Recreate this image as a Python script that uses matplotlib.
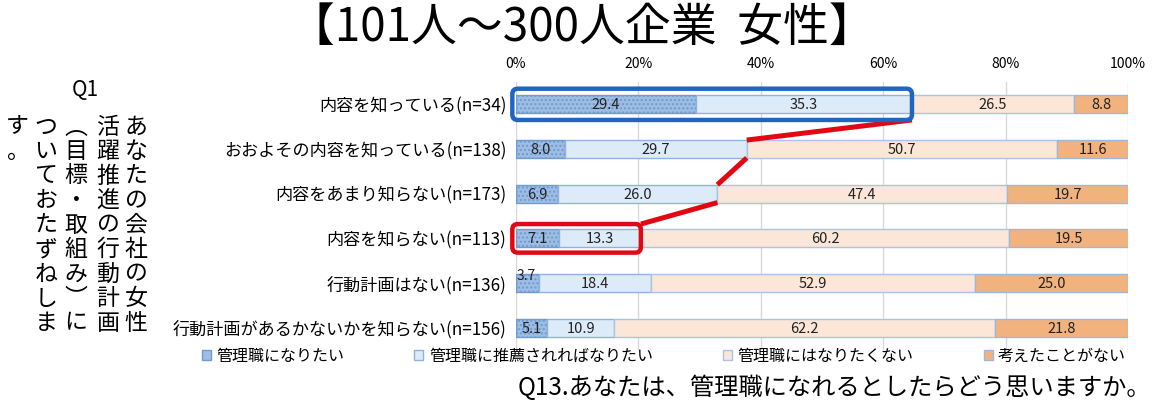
import matplotlib
matplotlib.use('Agg')
import matplotlib.pyplot as plt
from matplotlib.patches import FancyBboxPatch, Patch
import numpy as np

plt.rcParams['font.family'] = ['Noto Sans CJK JP', 'DejaVu Sans']

# データ（%）
categories = ['内容を知っている(n=34)', 'おおよその内容を知っている(n=138)',
              '内容をあまり知らない(n=173)', '内容を知らない(n=113)',
              '行動計画はない(n=136)', '行動計画があるかないかを知らない(n=156)']
want_manager = [29.4, 8.0, 6.9, 7.1, 3.7, 5.1]
if_recommended = [35.3, 29.7, 26.0, 13.3, 18.4, 10.9]
not_want = [26.5, 50.7, 47.4, 60.2, 52.9, 62.2]
never_thought = [8.8, 11.6, 19.7, 19.5, 25.0, 21.8]
series_names = ['管理職になりたい', '管理職に推薦されればなりたい',
                '管理職にはなりたくない', '考えたことがない']
tick_values = [0, 20, 40, 60, 80, 100]

colors = ['#9DBDE3', '#DDEBF8', '#FBE6D8', '#F2B27E']
edges = ['#6F9BD1', '#8FB3DE', '#A9C4E6', '#9DB8DD']

fig = plt.figure(figsize=(11.53, 4.11), dpi=100)
ax = fig.add_axes([516 / 1153, 1 - 350 / 411, 612 / 1153, 268 / 411])

y = np.arange(len(categories))
series = [want_manager, if_recommended, not_want, never_thought]
left = np.zeros(len(categories))
for i, vals in enumerate(series):
    vals = np.array(vals)
    ax.bar(left + vals / 2, 0.4, width=vals, bottom=y - 0.2, color=colors[i],
           edgecolor=edges[i], linewidth=1.0, hatch='....' if i == 0 else None,
           zorder=2)
    for j, v in enumerate(vals):
        if v < 4:
            ax.text(left[j] + 0.1, y[j] - 0.16, f'{v:.1f}', ha='left', va='center',
                    fontsize=10, color='#222222', zorder=4)
        else:
            ax.text(left[j] + v / 2, y[j] + 0.02, f'{v:.1f}', ha='center', va='center',
                    fontsize=10.5, color='#222222', zorder=4)
    left = left + vals

cum2 = np.array(want_manager) + np.array(if_recommended)

ax.set_xlim(0, 100)
ax.set_ylim(5.5, -0.5)
ax.set_yticks(y)
ax.set_yticklabels(categories, fontsize=12.3)
ax.set_xticks(tick_values)
ax.set_xticklabels([f'{t}%' for t in tick_values], fontsize=10)
ax.xaxis.tick_top()
ax.tick_params(axis='both', length=0, pad=7)
ax.tick_params(axis='x', pad=8)
ax.grid(axis='x', color='#D9D9D9', linewidth=1, zorder=0)
ax.set_axisbelow(True)
for s in ax.spines.values():
    s.set_visible(False)

# 強調枠
aspect = (6 / 268) / (100 / 612)
box_blue = FancyBboxPatch((-0.6, -0.35), cum2[0] + 0.6, 0.7,
                          boxstyle='round,pad=0,rounding_size=0.9',
                          mutation_aspect=aspect, fill=False,
                          edgecolor='#1F66C1', linewidth=3.2, zorder=5, clip_on=False)
ax.add_patch(box_blue)
box_red = FancyBboxPatch((-0.6, 3 - 0.32), cum2[3] + 0.6, 0.64,
                         boxstyle='round,pad=0,rounding_size=0.9',
                         mutation_aspect=aspect, fill=False,
                         edgecolor='#E30613', linewidth=3.2, zorder=5, clip_on=False)
ax.add_patch(box_red)

# 赤い接続線
ax.plot([cum2[0], cum2[1]], [0.35, 0.8], color='#E30613', lw=3.6, zorder=3,
        solid_capstyle='butt')
ax.plot([cum2[1], cum2[2]], [1.2, 1.8], color='#E30613', lw=3.6, zorder=3,
        solid_capstyle='butt')
ax.plot([cum2[2], cum2[3]], [2.2, 2.68], color='#E30613', lw=3.6, zorder=3,
        solid_capstyle='butt')

# 凡例
handles = [Patch(facecolor=colors[i], edgecolor=edges[i]) for i in range(4)]
fig.legend(handles, series_names, loc='center', ncol=4, frameon=False,
           bbox_to_anchor=(664 / 1153, 1 - 356 / 411), fontsize=11.5,
           handlelength=0.55, handleheight=0.55, handletextpad=0.35,
           columnspacing=4.4)

# タイトル
fig.text(582 / 1153, 1 - 28 / 411, '【101人～300人企業  女性】', ha='center',
         va='center', fontsize=33)
fig.text(834 / 1153, 1 - 388 / 411, 'Q13.あなたは、管理職になれるとしたらどう思いますか。',
         ha='center', va='center', fontsize=17.5)

# 左側の縦書き設問
fig.text(85 / 1153, 1 - 90 / 411, 'Q1', ha='center', va='center', fontsize=15)
columns = ['あなたの会社の女性', '活躍推進の行動計画', '︵目標・取組み︶に',
           'ついておたずねしま', 'す。']
col_x = [136, 108, 76, 46, 17]
for text, cx in zip(columns, col_x):
    for k, ch in enumerate(text):
        fig.text(cx / 1153, 1 - (127 + k * 24.5) / 411, ch, ha='center',
                 va='center', fontsize=16.5)

fig.savefig('out.png', dpi=100)
